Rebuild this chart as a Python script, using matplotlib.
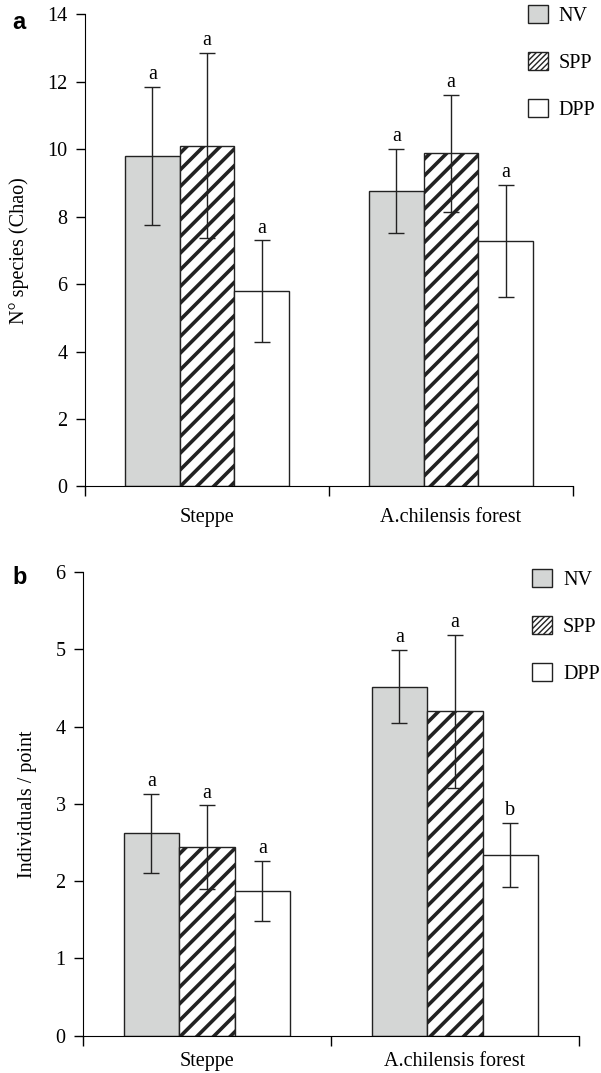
import numpy as np
import matplotlib
matplotlib.use('Agg')
import matplotlib.pyplot as plt
from matplotlib.patches import Patch

plt.rcParams['font.family'] = ['Liberation Serif', 'DejaVu Serif']
plt.rcParams['hatch.color'] = 'black'
plt.rcParams['hatch.linewidth'] = 2.6

# categories and treatments
sites = ['Steppe', 'A.chilensis forest']
treatments = ['NV', 'SPP', 'DPP']

# panel a - N species (Chao)
chao_nv = [9.8, 8.75]
chao_nv_err = [2.05, 1.25]
chao_spp = [10.1, 9.87]
chao_spp_err = [2.75, 1.73]
chao_dpp = [5.78, 7.28]
chao_dpp_err = [1.51, 1.65]
chao_letters = [['a', 'a'], ['a', 'a'], ['a', 'a']]

# panel b - individuals / point
ind_nv = [2.62, 4.52]
ind_nv_err = [0.51, 0.47]
ind_spp = [2.44, 4.2]
ind_spp_err = [0.54, 0.99]
ind_dpp = [1.87, 2.34]
ind_dpp_err = [0.39, 0.41]
ind_letters = [['a', 'a'], ['a', 'a'], ['a', 'b']]

fill_colors = ['#d4d6d5', 'white', 'white']
hatches = [None, '//', None]
legend_hatches = [None, '//////', None]


def draw_panel(ax, means, errs, letters, ymax, ystep, ylabel, panel, panel_y,
               leg_pos, xpad):
    x = np.arange(len(sites)) + 0.5
    w = 0.224
    for i, (m, e) in enumerate(zip(means, errs)):
        xs = x + (i - 1) * w
        ax.bar(xs, m, width=w, color=fill_colors[i], edgecolor='#222222',
               linewidth=1.0, hatch=hatches[i], zorder=2)
        ax.errorbar(xs, m, yerr=e, fmt='none', ecolor='#222222',
                    elinewidth=1.0, capsize=6, capthick=1.0, zorder=3)
        for xx, mm, ee, lab in zip(xs, m, e, letters[i]):
            ax.text(xx, mm + ee + ymax * 0.006, lab, ha='center', va='bottom',
                    fontsize=14.5)
    ax.set_xlim(0, 2)
    ax.set_ylim(0, ymax)
    ax.set_yticks(np.arange(0, ymax + 0.01, ystep))
    ax.set_xticks([0, 1, 2])
    ax.set_xticklabels([])
    ax.set_xticks(x, minor=True)
    ax.set_xticklabels(sites, minor=True)
    ax.tick_params(axis='x', which='major', length=7, width=1, direction='out')
    ax.tick_params(axis='x', which='minor', length=0, pad=xpad, labelsize=14.5)
    ax.tick_params(axis='y', length=6.5, width=1, pad=6, labelsize=14.5)
    ax.spines['top'].set_visible(False)
    ax.spines['right'].set_visible(False)
    ax.set_ylabel(ylabel, fontsize=14.5, labelpad=13)
    fig.text(0.02, panel_y, panel, fontsize=17, fontweight='bold',
             family='Liberation Sans', va='center', ha='left')

    handles = [Patch(facecolor=fill_colors[i], edgecolor='#222222',
                     linewidth=1.0, hatch=legend_hatches[i])
               for i in range(3)]
    leg = ax.legend(handles, treatments, loc='upper left', bbox_to_anchor=leg_pos,
                    bbox_transform=fig.transFigure, frameon=False, fontsize=14.5,
                    handlelength=1.0, handleheight=1.0, handletextpad=0.55,
                    labelspacing=1.3, borderpad=0, borderaxespad=0)
    for p in leg.get_patches():
        if hasattr(p, 'set_hatch_linewidth'):
            p.set_hatch_linewidth(1.0)


fig = plt.figure(figsize=(6.01, 10.73), dpi=100)
ax1 = fig.add_axes([0.1414, 0.5466, 0.812, 0.4403])
draw_panel(ax1, [chao_nv, chao_spp, chao_dpp],
           [chao_nv_err, chao_spp_err, chao_dpp_err], chao_letters,
           14, 2, 'N° species (Chao)', 'a', 0.979, (0.878, 0.9955), 15.5)

ax2 = fig.add_axes([0.138, 0.0349, 0.825, 0.4318])
draw_panel(ax2, [ind_nv, ind_spp, ind_dpp],
           [ind_nv_err, ind_spp_err, ind_dpp_err], ind_letters,
           6, 1, 'Individuals / point', 'b', 0.4615, (0.885, 0.4695), 11.5)

fig.savefig('out.png', dpi=100)
